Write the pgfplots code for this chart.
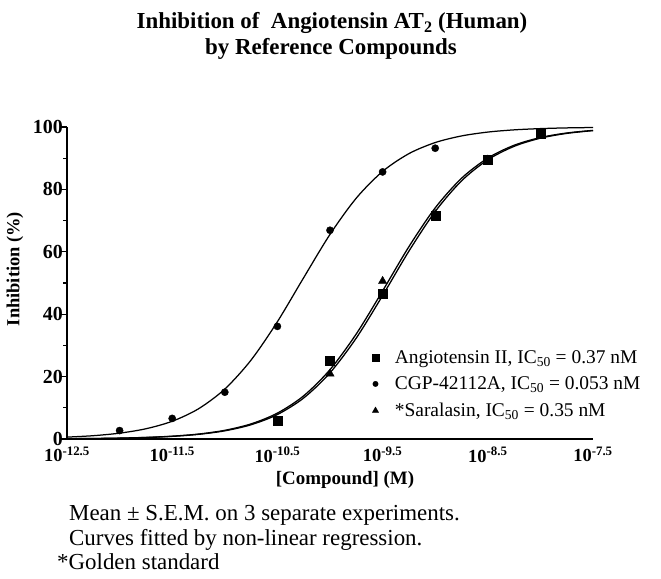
\documentclass[border=0pt]{standalone}
\usepackage{fontspec}
\setmainfont{Liberation Serif}
\usepackage{pgfplots}
\pgfplotsset{compat=1.18}
\newcommand{\xt}[1]{\fontsize{18.5}{20}\selectfont\bfseries 10\textsuperscript{#1}}
\begin{document}
\begin{tikzpicture}[x=1bp,y=1bp]
\path[use as bounding box] (0,0) rectangle (661,579);
\node[font=\fontsize{23}{26}\selectfont\bfseries] at (332,556) {Inhibition of \ Angiotensin AT\textsubscript{2} (Human)};
\node[font=\fontsize{23}{26}\selectfont\bfseries] at (331,530) {by Reference Compounds};
\node[font=\fontsize{18.5}{21}\selectfont\bfseries, rotate=90] at (15,310) {Inhibition (\%)};
\node[font=\fontsize{19}{21}\selectfont\bfseries] at (345,99) {[Compound] (M)};
\node[font=\fontsize{23}{26}\selectfont, anchor=west, inner sep=0pt] at (69,64) {Mean ± S.E.M. on 3 separate experiments.};
\node[font=\fontsize{23}{26}\selectfont, anchor=west, inner sep=0pt] at (69,39) {Curves fitted by non-linear regression.};
\node[font=\fontsize{23}{26}\selectfont, anchor=west, inner sep=0pt] at (57,17) {*Golden standard};
\begin{axis}[
  at={(67bp,140bp)}, anchor=south west,
  scale only axis, width=526bp, height=312bp,
  xmin=-12.5, xmax=-7.5, ymin=0, ymax=100,
  /pgf/number format/assume math mode=true,
  axis x line*=bottom, axis y line*=left,
  axis line style={line width=1.6bp, -},
  xtick={-12.5,-11.5,-10.5,-9.5,-8.5,-7.5},
  xticklabels={\xt{-12.5},\xt{-11.5},\xt{-10.5},\xt{-9.5},\xt{-8.5},\xt{-7.5}},
  xtick style={draw=none},
  xticklabel style={yshift=-1bp, inner sep=1bp},
  ytick={0,20,40,60,80,100},
  yticklabels={0,20,40,60,80,100},
  yticklabel style={font=\fontsize{20}{22}\selectfont\bfseries, xshift=3bp, inner sep=1bp},
  minor y tick num=1,
  tick align=outside,
  major tick length=6bp, minor tick length=4bp,
  ytick style={line width=1.3bp, black},
  minor tick style={line width=1.3bp, black},
  clip=false,
  legend style={at={(axis description cs:0.574,0.2976)}, anchor=north west,
    draw=none, fill=none, font=\fontsize{19.5}{22}\selectfont, row sep=8bp,
    column sep=14bp, cells={anchor=west}},
  legend image post style={scale=0.75},
]
% fitted curves
\addplot[black, line width=1.25bp, smooth, forget plot] coordinates {
(-12.5,0.60)(-12.25,1.06)(-12.0,1.87)(-11.75,3.28)(-11.5,5.68)(-11.25,9.68)
(-11.0,16.0)(-10.75,25.31)(-10.5,37.6)(-10.25,51.72)(-10.0,65.58)(-9.75,77.21)
(-9.5,85.76)(-9.25,91.46)(-9.0,95.01)(-8.75,97.13)(-8.5,98.37)(-8.25,99.08)
(-8.0,99.48)(-7.75,99.71)(-7.5,99.83)};
\addplot[black, line width=1.3bp, smooth, forget plot] coordinates {
(-12.5,0.085)(-12.25,0.151)(-12.0,0.268)(-11.75,0.476)(-11.5,0.844)(-11.25,1.491)
(-11.0,2.62)(-10.75,4.57)(-10.5,7.84)(-10.25,13.15)(-10.0,21.21)(-9.75,32.37)
(-9.5,45.98)(-9.25,60.21)(-9.0,72.91)(-8.75,82.72)(-8.5,89.49)(-8.25,93.80)
(-8.0,96.42)(-7.75,97.95)(-7.5,98.84)};
\addplot[black, line width=1.3bp, smooth, forget plot] coordinates {
(-12.5,0.090)(-12.25,0.160)(-12.0,0.285)(-11.75,0.506)(-11.5,0.895)(-11.25,1.58)
(-11.0,2.78)(-10.75,4.84)(-10.5,8.29)(-10.25,13.84)(-10.0,22.23)(-9.75,33.69)
(-9.5,47.46)(-9.25,61.64)(-9.0,74.08)(-8.75,83.56)(-8.5,90.03)(-8.25,94.14)
(-8.0,96.62)(-7.75,98.07)(-7.5,98.91)};
% data points
\addplot[only marks, mark=square*, mark size=4.5bp, black] coordinates {
(-10.5,6.0)(-10.0,25.2)(-9.5,46.5)(-9.0,71.5)(-8.5,89.5)(-8.0,98.0)};
\addlegendentry{Angiotensin II, IC\textsubscript{50} = 0.37 nM}
\addplot[only marks, mark=*, mark size=3.6bp, black] coordinates {
(-12.0,2.7)(-11.5,6.6)(-11.0,15.0)(-10.5,36.1)(-10.0,66.9)(-9.5,85.6)(-9.0,93.2)};
\addlegendentry{CGP-42112A, IC\textsubscript{50} = 0.053 nM}
\addplot[only marks, mark=triangle*, mark size=4.8bp, black] coordinates {
(-10.5,5.5)(-10.0,20.9)(-9.5,50.6)(-9.0,72.0)(-8.5,89.5)(-8.0,97.2)};
\addlegendentry{*Saralasin, IC\textsubscript{50} = 0.35 nM}
\end{axis}
\end{tikzpicture}
\end{document}
